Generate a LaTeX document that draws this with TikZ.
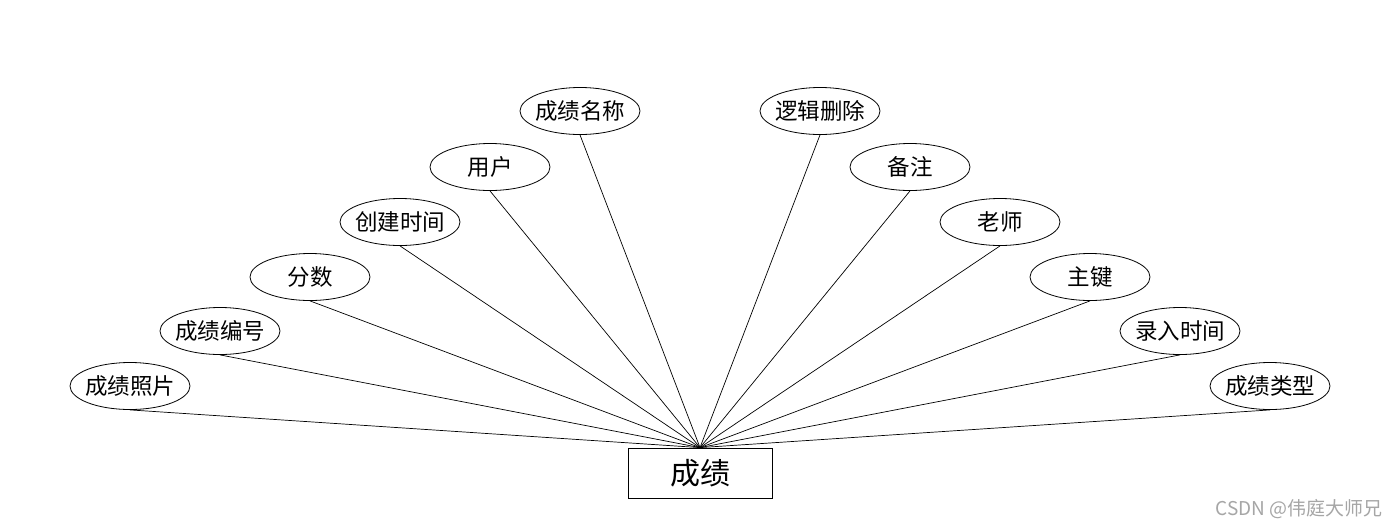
\documentclass[tikz,border=0pt]{standalone}
\usepackage{fontspec}
\setmainfont{Noto Sans CJK SC}
\usetikzlibrary{shapes.geometric}
\newcommand\zwtxt[1]{\makebox[0pt]{#1}}
\begin{document}
\begin{tikzpicture}[x=1pt,y=-1pt,
  attr/.style={draw, ellipse, line width=0.8pt, minimum width=120pt, minimum height=47pt, inner sep=0pt, font=\fontsize{22.5}{24}\selectfont},
  ent/.style={draw, rectangle, line width=0.8pt, minimum width=144pt, minimum height=50pt, inner sep=0pt, font=\fontsize{30}{32}\selectfont},
  link/.style={line width=0.7pt}]
\useasboundingbox (0,0) rectangle (1400,528);
\fill[white] (0,0) rectangle (1400,528);
\node[ent] (e) at (700,473) {成绩};
\node[attr] (a1) at (130,386) {\zwtxt{成绩照片}};
\node[attr] (a2) at (220,331) {\zwtxt{成绩编号}};
\node[attr] (a3) at (310,277) {\zwtxt{分数}};
\node[attr] (a4) at (400,222) {\zwtxt{创建时间}};
\node[attr] (a5) at (490,167) {\zwtxt{用户}};
\node[attr] (a6) at (580,111) {\zwtxt{成绩名称}};
\node[attr] (b6) at (820,111) {\zwtxt{逻辑删除}};
\node[attr] (b5) at (910,167) {\zwtxt{备注}};
\node[attr] (b4) at (1000,222) {\zwtxt{老师}};
\node[attr] (b3) at (1090,277) {\zwtxt{主键}};
\node[attr] (b2) at (1180,331) {\zwtxt{录入时间}};
\node[attr] (b1) at (1270,386) {\zwtxt{成绩类型}};
\foreach \n in {a1,a2,a3,a4,a5,a6,b1,b2,b3,b4,b5,b6}
  \draw[link] (\n.south) -- (e.north);
\node[text=gray!70, font=\fontsize{19}{21}\selectfont, anchor=east] (wm) at (1386,509) {CSDN @伟庭大师兄};
\end{tikzpicture}
\end{document}
